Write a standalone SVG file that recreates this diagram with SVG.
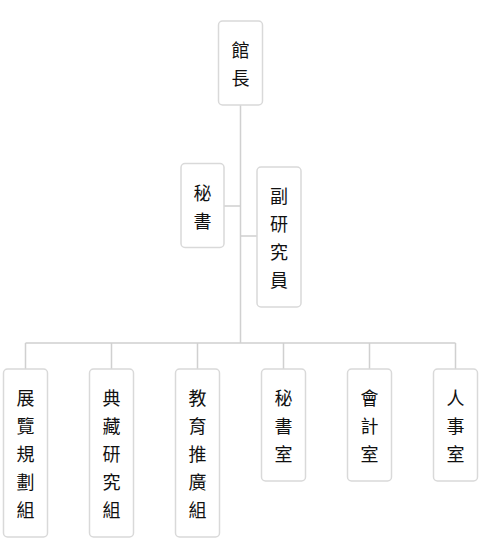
<svg xmlns="http://www.w3.org/2000/svg" width="481" height="559" viewBox="0 0 481 559">
<style>
.box{fill:#fff;stroke:#d9d9d9;stroke-width:1.5}
.t{font-family:"Noto Sans CJK TC","Noto Sans CJK SC",sans-serif;font-size:18px;fill:#111;text-anchor:middle;dominant-baseline:central}
.c{fill:none;stroke:#d0d0d0;stroke-width:1.5}
</style>
<rect width="481" height="559" fill="#fff"/>
<g id="connectors">
<path class="c" d="M240.5 105V343M224 206H240.5M240.5 236H257M25.5 343H455.5M25.5 343V369M111.5 343V369M197.5 343V369M283.5 343V369M369.5 343V369M455.5 343V369"/>
</g>
<g id="n-director"><rect class="box" x="218.5" y="21" width="44" height="84" rx="4"/><text class="t" x="240.5" y="49">館</text><text class="t" x="240.5" y="77">長</text></g>
<g id="n-secretary"><rect class="box" x="181" y="163.5" width="43" height="84" rx="4"/><text class="t" x="202.5" y="191.5">秘</text><text class="t" x="202.5" y="219.5">書</text></g>
<g id="n-assoc"><rect class="box" x="257" y="167" width="44" height="140" rx="4"/><text class="t" x="279" y="195">副</text><text class="t" x="279" y="223">研</text><text class="t" x="279" y="251">究</text><text class="t" x="279" y="279">員</text></g>
<g id="n-exhibit"><rect class="box" x="3.5" y="369" width="44" height="168" rx="4"/><text class="t" x="25.5" y="397">展</text><text class="t" x="25.5" y="425">覽</text><text class="t" x="25.5" y="453">規</text><text class="t" x="25.5" y="481">劃</text><text class="t" x="25.5" y="509">組</text></g>
<g id="n-collection"><rect class="box" x="89.5" y="369" width="44" height="168" rx="4"/><text class="t" x="111.5" y="397">典</text><text class="t" x="111.5" y="425">藏</text><text class="t" x="111.5" y="453">研</text><text class="t" x="111.5" y="481">究</text><text class="t" x="111.5" y="509">組</text></g>
<g id="n-education"><rect class="box" x="175.5" y="369" width="44" height="168" rx="4"/><text class="t" x="197.5" y="397">教</text><text class="t" x="197.5" y="425">育</text><text class="t" x="197.5" y="453">推</text><text class="t" x="197.5" y="481">廣</text><text class="t" x="197.5" y="509">組</text></g>
<g id="n-secoffice"><rect class="box" x="261.5" y="369" width="44" height="112" rx="4"/><text class="t" x="283.5" y="397">秘</text><text class="t" x="283.5" y="425">書</text><text class="t" x="283.5" y="453">室</text></g>
<g id="n-accounting"><rect class="box" x="347.5" y="369" width="44" height="112" rx="4"/><text class="t" x="369.5" y="397">會</text><text class="t" x="369.5" y="425">計</text><text class="t" x="369.5" y="453">室</text></g>
<g id="n-personnel"><rect class="box" x="433.5" y="369" width="44" height="112" rx="4"/><text class="t" x="455.5" y="397">人</text><text class="t" x="455.5" y="425">事</text><text class="t" x="455.5" y="453">室</text></g>
</svg>
